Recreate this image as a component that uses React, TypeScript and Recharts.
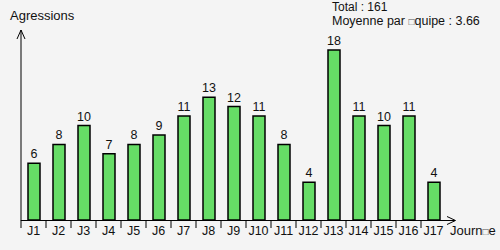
import { BarChart, Bar, XAxis, YAxis, LabelList } from 'recharts';

const journees = ['J1', 'J2', 'J3', 'J4', 'J5', 'J6', 'J7', 'J8', 'J9', 'J10', 'J11', 'J12', 'J13', 'J14', 'J15', 'J16', 'J17'];
const agressions = [6, 8, 10, 7, 8, 9, 11, 13, 12, 11, 8, 4, 18, 11, 10, 11, 4];
const totalText = 'Total : 161';
const yTitle = 'Agressions';
const MISSING = '\u25A1'; // glyph box shown in place of the accented letter

const data = journees.map((j, i) => ({ name: j, value: agressions[i] }));

const FONT = '"Liberation Sans", Arial, sans-serif';

// tick mark on the left edge of each band, label centred
const JourneeTick = (props: any) => {
  const { x, y, payload } = props;
  return (
    <g>
      <line x1={x - 12.5} y1={y} x2={x - 12.5} y2={y + 8} stroke="#000" strokeWidth={1} />
      <text x={x} y={y + 15} textAnchor="middle" fontSize={12.5} fontFamily={FONT} fill="#111">
        {payload.value}
      </text>
    </g>
  );
};

export default function App() {
  return (
    <div style={{ position: 'absolute', left: 0, top: 0, width: 500, height: 250, background: '#f4f4f4' }}>
      <BarChart width={500} height={250} data={data} margin={{ top: 31, right: 54, left: 21, bottom: 0 }} barCategoryGap={0}>
        <XAxis
          dataKey="name"
          height={30}
          axisLine={false}
          tickLine={false}
          tickSize={0}
          tickMargin={0}
          interval={0}
          tick={<JourneeTick />}
        />
        <YAxis hide domain={[0, 20]} />
        <Bar dataKey="value" fill="#66dd66" stroke="#000" strokeWidth={1.5} barSize={12} isAnimationActive={false}>
          <LabelList dataKey="value" position="top" offset={5} fontSize={12.5} fontFamily={FONT} style={{ fill: '#111' }} />
        </Bar>
      </BarChart>
      <svg width={500} height={250} style={{ position: 'absolute', left: 0, top: 0, pointerEvents: 'none' }}>
        <g stroke="#000" strokeWidth={1} fill="none">
          <line x1={21} y1={220.5} x2={21} y2={30} />
          <polyline points="17,39 21,30 25,39" />
          <line x1={21} y1={220.5} x2={455} y2={220.5} />
          <polyline points="447,216.5 455.5,220.5 447,224.5" />
        </g>
        <g fontFamily={FONT} fontSize={13} fill="#111">
          <text x={10} y={20}>{yTitle}</text>
          <text x={332} y={11} fontSize={12}>{totalText}</text>
          <text x={332} y={25} fontSize={12.5}>
            Moyenne par <tspan fontSize={10} fill="#555">{MISSING}</tspan>quipe : 3.66
          </text>
          <text x={450} y={235}>
            Journ<tspan fontSize={10} fill="#555">{MISSING}</tspan>e
          </text>
        </g>
      </svg>
    </div>
  );
}
